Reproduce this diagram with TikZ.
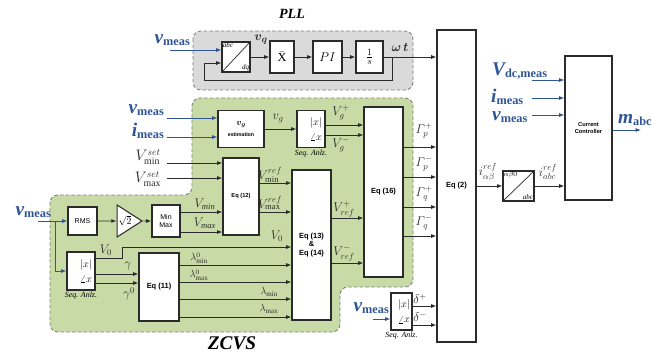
\documentclass[tikz,border=0pt]{standalone}
\usepackage{amsmath}
\usepackage{fontspec}
\setmainfont{Liberation Serif}
\setsansfont{Liberation Sans}
\usepackage{tikz}
\usetikzlibrary{arrows.meta,shapes.geometric}
\definecolor{zcvsgreen}{HTML}{C8DBA6}
\definecolor{pllgray}{HTML}{DADADA}
\definecolor{zoneedge}{HTML}{7F7F7F}
\definecolor{wireblack}{HTML}{2B2B2B}
\definecolor{measblue}{HTML}{2F5597}
\newlength\pxu
\setlength\pxu{0.04cm}
\newcommand\measv[2]{{\bfseries\itshape\fontsize{22}{22}\selectfont #1}\raisebox{-3pt}{\bfseries\fontsize{14}{14}\selectfont #2}}
\tikzset{
  blk/.style={draw=wireblack, line width=1.2pt, fill=white, inner sep=0pt, align=center},
  wh/.style 2 args={minimum width=#1\pxu, minimum height=#2\pxu},
  eqblk/.style={blk, font=\sffamily\bfseries\fontsize{8.5}{10}\selectfont},
  seqblk/.style={blk, align=right, font=\fontsize{12}{17}\selectfont},
  sig/.style={draw=wireblack, line width=1.1pt, -{Latex[length=6pt,width=4.5pt]}},
  meassig/.style={sig, draw=measblue},
  zone/.style={draw=zoneedge, line width=1pt, dash pattern=on 4pt off 2.5pt, rounded corners=9pt},
  mlbl/.style={inner sep=0pt, text=wireblack, font=\fontsize{14}{15}\selectfont},
  slbl/.style={inner sep=0pt, text=wireblack, font=\fontsize{12}{13}\selectfont},
  measlbl/.style={inner sep=0pt, text=measblue},
  anlz/.style={inner sep=0pt, yshift=-2pt, font=\itshape\fontsize{9}{10}\selectfont},
  cornertxt/.style={inner sep=1.5pt, font=\itshape\fontsize{8}{8}\selectfont},
  zonetitle/.style={inner sep=0pt, font=\bfseries\itshape\fontsize{16}{18}\selectfont}
}
\begin{document}
\begin{tikzpicture}[x=0.04cm, y=-0.04cm]
\useasboundingbox (0,0) rectangle (652,355);
% zones
\draw[zone, fill=pllgray] (193,31) rectangle (413,90);
\draw[zone, fill=zcvsgreen] (300,98) -- (413,98) -- (413,287) -- (340,287) -- (340,332) -- (50,332) -- (50,195) -- (192,195) -- (192,98) -- cycle;
\node[zonetitle] (plltitle) at (292,14) {PLL};
\node[zonetitle, font=\bfseries\itshape\fontsize{22}{24}\selectfont] (zcvstitle) at (232,343) {ZCVS};

% PLL
\node[blk, wh={28}{30}] (abcdq) at (236,57) {};
\draw[line width=0.8pt, draw=wireblack] (abcdq.south west) -- (abcdq.north east);
\node[cornertxt, anchor=north west] (abctxt) at (abcdq.north west) {abc};
\node[cornertxt, anchor=south east] (dqtxt) at (abcdq.south east) {dq};
\node[blk, wh={24}{32}, font=\fontsize{14}{14}\selectfont] (xbar) at (282,57) {$\bar{\mathrm{X}}$};
\node[blk, wh={29}{32}, font=\fontsize{15}{15}\selectfont] (pictl) at (327.5,57) {$PI$};
\node[blk, wh={27}{32}, font=\fontsize{15}{15}\selectfont] (integ) at (369.5,57) {$\frac{1}{s}$};
\coordinate (pllin) at (170,50);
\node[measlbl, anchor=east] (pllmeas) at (190,40) {\measv{v}{meas}};
\node[mlbl, font=\fontsize{15}{15}\selectfont] (vqlbl) at (261,40) {$\boldsymbol{v_q}$};
\node[mlbl] (omegalbl) at (400,47) {$\boldsymbol{\omega}\,\boldsymbol{t}$};

% Eq (2) and current controller
\node[eqblk, wh={39}{312}] (eqtwo) at (456.5,186) {Eq (2)};
\node[blk, wh={47}{144}, font=\sffamily\bfseries\fontsize{6.5}{8}\selectfont] (curctl) at (588.5,128) {Current\\Controller};
\node[blk, wh={31}{30}] (abcconv) at (518.5,186) {};
\draw[line width=0.8pt, draw=wireblack] (abcconv.south west) -- (abcconv.north east);
\node[cornertxt, anchor=north west] (abtxt) at (abcconv.north west) {$\alpha\beta0$};
\node[cornertxt, anchor=south east] (abctxtb) at (abcconv.south east) {abc};
\node[mlbl] (irefab) at (488,172) {$i^{ref}_{\alpha\beta}$};
\node[mlbl] (irefabc) at (548,172) {$i^{ref}_{abc}$};
\coordinate (vdcin) at (532,80);
\coordinate (iccin) at (532,98);
\coordinate (vccin) at (532,115);
\coordinate (mout) at (641,130);
\node[measlbl, anchor=west] (vdclbl) at (492,71) {\measv{V}{dc,meas}};
\node[measlbl, anchor=west] (icclbl) at (491,97) {\measv{i}{meas}};
\node[measlbl, anchor=west] (vcclbl) at (492,117) {\measv{v}{meas}};
\node[measlbl, anchor=west] (mabclbl) at (618,120) {\measv{m}{abc}};

% ZCVS upper part
\node[blk, wh={46}{37}] (vgest) at (241,129) {{\fontsize{10}{11}\selectfont$\boldsymbol{v_g}$}\\{\sffamily\bfseries\fontsize{6}{7}\selectfont estimation}};
\node[seqblk, wh={28}{37}, text width=22\pxu, label={[anlz]below:Seq. Anlz.}] (seqa) at (311,129) {$|x|$\\$\angle x$};
\node[eqblk, wh={39}{170}] (eqsixteen) at (383.5,192) {Eq (16)};
\node[eqblk, wh={36}{77}, font=\sffamily\bfseries\fontsize{6.5}{8}\selectfont] (eqtwelve) at (241,196.5) {Eq (12)};
\node[eqblk, wh={39}{150}] (eqthirteen) at (311.5,245) {Eq (13)\\\&\\Eq (14)};
\coordinate (vgvin) at (167,118);
\coordinate (vgiin) at (167,137);
\coordinate (vminsetin) at (167,163);
\coordinate (vmaxsetin) at (167,178);
\node[measlbl, anchor=east] (vgvlbl) at (164,110) {\measv{v}{meas}};
\node[measlbl, anchor=east] (vgilbl) at (164,131) {\measv{i}{meas}};
\node[mlbl, font=\fontsize{16}{16}\selectfont] (vminsetlbl) at (148,157) {$V^{set}_{\mathrm{min}}$};
\node[mlbl, font=\fontsize{16}{16}\selectfont] (vmaxsetlbl) at (148,179) {$V^{set}_{\mathrm{max}}$};
\node[mlbl] (vglbl) at (278,119) {$v_g$};
\node[mlbl] (vgplbl) at (341,113) {$V_g^+$};
\node[mlbl] (vgmlbl) at (341,145) {$V_g^-$};
\node[mlbl] (gpplbl) at (424,131) {$\varGamma_p^+$};
\node[mlbl] (gpmlbl) at (424,164) {$\varGamma_p^-$};
\node[mlbl] (gqplbl) at (424,194) {$\varGamma_q^+$};
\node[mlbl] (gqmlbl) at (424,223) {$\varGamma_q^-$};
\node[mlbl] (vminreflbl) at (270,175) {$V^{ref}_{\mathrm{min}}$};
\node[mlbl] (vmaxreflbl) at (270,203) {$V^{ref}_{\mathrm{max}}$};
\node[mlbl] (vrefplbl) at (344,209) {$V^{+}_{ref}$};
\node[mlbl] (vrefmlbl) at (344,253) {$V^{-}_{ref}$};

% ZCVS lower part
\coordinate (rmsin) at (38,221);
\node[measlbl, anchor=east] (rmslbl) at (51,212) {\measv{v}{meas}};
\node[blk, wh={29}{28}, font=\sffamily\fontsize{8}{9}\selectfont] (rms) at (82.5,221) {RMS};
\node[draw=wireblack, line width=1.2pt, fill=white, isosceles triangle, isosceles triangle stretches, minimum width=32\pxu, minimum height=24\pxu, inner sep=0pt, font=\fontsize{11}{11}\selectfont] (gain) at (125,221) {$\sqrt{2}$};
\node[blk, wh={28}{32}, font=\sffamily\fontsize{8}{10}\selectfont] (minmax) at (166,221) {Min\\Max};
\node[seqblk, wh={28}{38}, text width=22\pxu, label={[anlz]below:Seq. Anlz.}] (seqb) at (81,271) {$|x|$\\$\angle x$};
\node[eqblk, wh={40}{68}] (eqeleven) at (159,287) {Eq (11)};
\node[mlbl] (vminlbl) at (205,204) {$V_{\mathit{min}}$};
\node[mlbl] (vmaxlbl) at (205,223) {$V_{\mathit{max}}$};
\node[mlbl] (vzeroalbl) at (106,250) {$V_0$};
\node[mlbl] (vzeroblbl) at (277,236) {$V_0$};
\node[mlbl] (gammalbl) at (128,266) {$\gamma$};
\node[mlbl] (gammazlbl) at (129,294) {$\gamma^0$};
\node[slbl] (lzminlbl) at (199,258) {$\lambda^0_{\mathrm{min}}$};
\node[slbl] (lzmaxlbl) at (199,275) {$\lambda^0_{\mathrm{max}}$};
\node[slbl] (lminlbl) at (269,292) {$\lambda_{\mathrm{min}}$};
\node[slbl] (lmaxlbl) at (269,309) {$\lambda_{\mathrm{max}}$};

% sequence analysis for Eq (2)
\node[seqblk, wh={21}{37}, text width=17\pxu, label={[anlz]below:Seq. Anlz.}] (seqc) at (401.5,311.5) {$|x|$\\$\angle x$};
\coordinate (seqcin) at (373,319);
\node[measlbl, anchor=east] (seqclbl) at (389,308) {\measv{v}{meas}};
\node[mlbl] (dplbl) at (420,299) {$\delta^+$};
\node[mlbl] (dmlbl) at (420,317) {$\delta^-$};

% connectors
\draw[meassig] (pllin) -- (abcdq.west |- pllin);
\draw[sig] (abcdq) -- (xbar);
\draw[sig] (xbar) -- (pictl);
\draw[sig] (pictl) -- (integ);
\draw[sig] (integ) -- (eqtwo.west |- integ);
\draw[sig] ([xshift=9\pxu]integ.east) |- ([xshift=-17\pxu,yshift=-23\pxu]abcdq.west) |- ([yshift=-6\pxu]abcdq.west);
\draw[sig] (eqtwo.east |- abcconv) -- (abcconv);
\draw[sig] (abcconv) -- (curctl.west |- abcconv);
\draw[meassig] (vdcin) -- (curctl.west |- vdcin);
\draw[meassig] (iccin) -- (curctl.west |- iccin);
\draw[meassig] (vccin) -- (curctl.west |- vccin);
\draw[meassig] (curctl.east |- mout) -- (mout);
\draw[meassig] (vgvin) -- (vgest.west |- vgvin);
\draw[meassig] (vgiin) -- (vgest.west |- vgiin);
\draw[sig] (vgest) -- (seqa);
\draw[sig] (seqa.east |- 0,125) -- (eqsixteen.west |- 0,125);
\draw[sig] (seqa.east |- 0,135) -- (eqsixteen.west |- 0,135);
\foreach \yy in {147,177,207,236}
  \draw[sig] (eqsixteen.east |- 0,\yy) -- (eqtwo.west |- 0,\yy);
\draw[sig] (vminsetin) -- (eqtwelve.west |- vminsetin);
\draw[sig] (vmaxsetin) -- (eqtwelve.west |- vmaxsetin);
\draw[sig] (eqtwelve.east |- 0,183) -- (eqthirteen.west |- 0,183);
\draw[sig] (eqtwelve.east |- 0,212) -- (eqthirteen.west |- 0,212);
\draw[sig] (eqthirteen.east |- 0,218) -- (eqsixteen.west |- 0,218);
\draw[sig] (eqthirteen.east |- 0,263) -- (eqsixteen.west |- 0,263);
\draw[meassig] (rmsin) -- (rms);
\draw[meassig] ([xshift=17\pxu]rmsin) |- (seqb.west);
\draw[sig] (rms) -- (gain);
\draw[sig] (gain) -- (minmax);
\draw[sig] (minmax.east |- 0,212) -- (eqtwelve.west |- 0,212);
\draw[sig] (minmax.east |- 0,232) -- (eqtwelve.west |- 0,232);
\draw[sig] (seqb.east |- 0,258) -| ++(27,-11) -- (eqthirteen.west |- 0,247);
\draw[sig] (seqb.east |- 0,274) -- (eqeleven.west |- 0,274);
\draw[sig] (seqb.east |- 0,283) -- (eqeleven.west |- 0,283);
\foreach \yy in {265,282,299,317}
  \draw[sig] (eqeleven.east |- 0,\yy) -- (eqthirteen.west |- 0,\yy);
\draw[meassig] (seqcin) -- (seqc.west |- seqcin);
\draw[sig] (seqc.east |- 0,306) -- (eqtwo.west |- 0,306);
\draw[sig] (seqc.east |- 0,325) -- (eqtwo.west |- 0,325);
\end{tikzpicture}
\end{document}
